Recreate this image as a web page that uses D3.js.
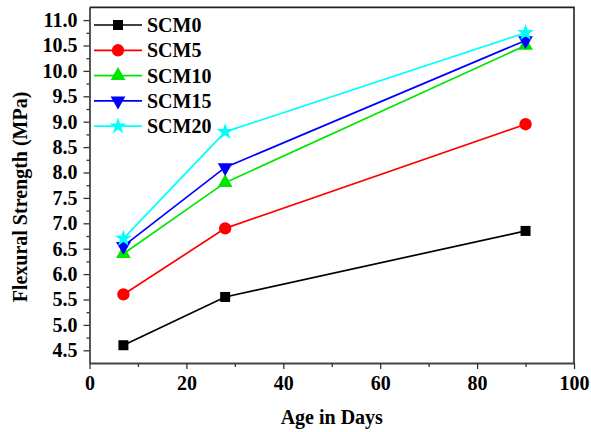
<!DOCTYPE html>
<html>
<head>
<meta charset="utf-8">
<script src="https://cdn.jsdelivr.net/npm/d3@7/dist/d3.min.js"></script>
<style>
  html, body { margin: 0; padding: 0; background: #fff; }
</style>
</head>
<body>
<svg id="chart" width="591" height="432"></svg>
<script>
// Curing age (days) at which flexural strength was measured
const ages = [7, 28, 90];

// Flexural strength (MPa) for each mix
const seriesNames = ["SCM0", "SCM5", "SCM10", "SCM15", "SCM20"];
const scm0  = [4.6, 5.55, 6.85];
const scm5  = [5.6, 6.9, 8.95];
const scm10 = [6.4, 7.8, 10.5];
const scm15 = [6.55, 8.1, 10.6];
const scm20 = [6.7, 8.8, 10.75];

const xTicks = [0, 20, 40, 60, 80, 100];
const yTicks = [4.5, 5.0, 5.5, 6.0, 6.5, 7.0, 7.5, 8.0, 8.5, 9.0, 9.5, 10.0, 10.5, 11.0];

const seriesValues = [scm0, scm5, scm10, scm15, scm20];
const colors = ["#000000", "#ff0000", "#00e600", "#0000ff", "#00ffff"];
const symbols = ["square", "circle", "triangleUp", "triangleDown", "star"];

const FONT = "font-family:'Liberation Serif';font-weight:bold;font-size:20px;fill:#000";

const svg = d3.select("#chart");
const plotL = 89.5, plotR = 574, plotT = 7.4, plotB = 363;

const x = d3.scaleLinear().domain([0, 100]).range([plotL, plotR]);
const y = d3.scaleLinear().domain([4.25, 11.25]).range([plotB, plotT]);

// Frame (top and right edges)
svg.append("path")
  .attr("d", `M${plotL},${plotT}H${plotR}V${plotB}`)
  .attr("fill", "none").attr("stroke", "#222").attr("stroke-width", 1.6);

// Y axis: major ticks with labels, minor ticks halfway between
svg.append("g").attr("transform", `translate(${plotL},0)`)
  .call(d3.axisLeft(y).tickValues(yTicks).tickFormat(d3.format(".1f")).tickSize(6).tickPadding(6).tickSizeOuter(0));
svg.append("g").attr("transform", `translate(${plotL},0)`)
  .call(d3.axisLeft(y).tickValues(yTicks.slice(0, -1).map(v => v + 0.25)).tickFormat("").tickSize(3).tickSizeOuter(0))
  .select(".domain").remove();

// X axis: major ticks with labels, minor ticks between
svg.append("g").attr("transform", `translate(0,${plotB})`)
  .call(d3.axisBottom(x).tickValues(xTicks).tickFormat(d3.format("d")).tickSize(6).tickPadding(7).tickSizeOuter(0));
svg.append("g").attr("transform", `translate(0,${plotB})`)
  .call(d3.axisBottom(x).tickValues([10, 30, 50, 70, 90]).tickFormat("").tickSize(4).tickSizeOuter(0))
  .select(".domain").remove();

svg.selectAll(".domain").attr("stroke", "#444").attr("stroke-width", 1.8);
svg.selectAll(".tick line").attr("stroke", "#333").attr("stroke-width", 1.3);
svg.selectAll(".tick text").attr("style", FONT);

// Axis titles
svg.append("text")
  .attr("x", (plotL + plotR) / 2).attr("y", 424)
  .attr("text-anchor", "middle").attr("style", FONT)
  .text("Age in Days");
svg.append("text")
  .attr("transform", "translate(27,197) rotate(-90)")
  .attr("text-anchor", "middle").attr("style", FONT)
  .text("Flexural Strength (MPa)");

// Marker shapes
function symbolPath(kind) {
  switch (kind) {
    case "square": return d3.symbol(d3.symbolSquare, 100)();
    case "circle": return d3.symbol(d3.symbolCircle, 120)();
    case "triangleUp": return d3.symbol(d3.symbolTriangle, 95)();
    case "triangleDown": return d3.symbol(d3.symbolTriangle, 95)();
    case "star": return d3.symbol(d3.symbolStar, 90)();
  }
}
function symbolTransform(kind, px, py) {
  return kind === "triangleDown" ? `translate(${px},${py}) rotate(180)` : `translate(${px},${py})`;
}

const line = d3.line().x((d, i) => x(ages[i])).y(d => y(d));

// Draw lines then markers for each series
seriesValues.forEach((vals, s) => {
  svg.append("path").datum(vals)
    .attr("d", line)
    .attr("fill", "none").attr("stroke", colors[s]).attr("stroke-width", 1.7);
  svg.append("g").selectAll("path").data(vals).join("path")
    .attr("d", symbolPath(symbols[s]))
    .attr("transform", (d, i) => symbolTransform(symbols[s], x(ages[i]), y(d)))
    .attr("fill", colors[s]);
});

// Legend
const legend = svg.append("g");
seriesNames.forEach((name, s) => {
  const ly = 25 + s * 25.3;
  legend.append("line").attr("x1", 94).attr("x2", 142).attr("y1", ly).attr("y2", ly)
    .attr("stroke", colors[s]).attr("stroke-width", 1.7);
  legend.append("path").attr("d", symbolPath(symbols[s]))
    .attr("transform", symbolTransform(symbols[s], 118, ly))
    .attr("fill", colors[s]);
  legend.append("text").attr("x", 147).attr("y", ly + 7)
    .attr("style", FONT).text(name);
});
</script>
</body>
</html>
